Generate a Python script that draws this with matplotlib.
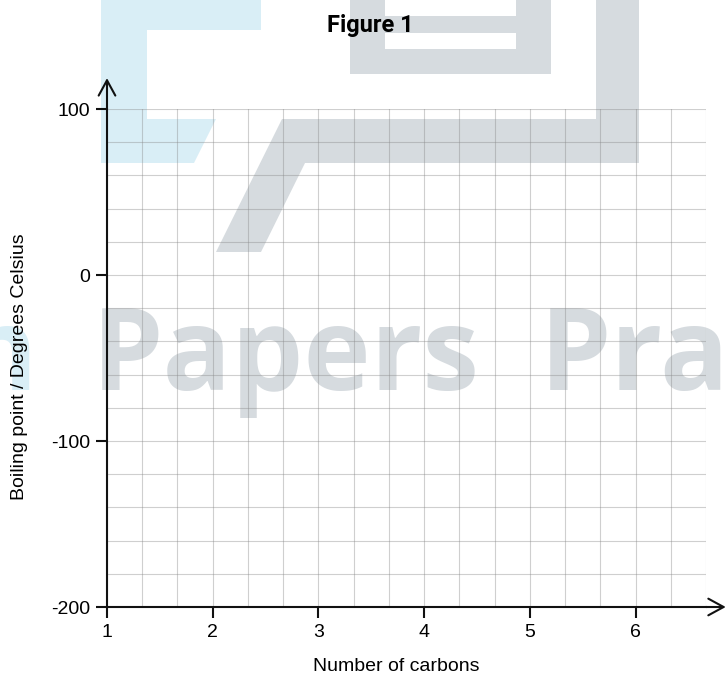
import matplotlib
matplotlib.use('Agg')
import matplotlib.pyplot as plt
from matplotlib.patches import Polygon
from matplotlib.ticker import MultipleLocator

plt.rcParams['font.family'] = ['Liberation Sans', 'DejaVu Sans']
plt.rcParams['axes.unicode_minus'] = False

# axis ranges and ticks
x_range = (1, 6 + 2 / 3)
y_range = (-200, 100)
x_ticks = [1, 2, 3, 4, 5, 6]
y_ticks = [-200, -100, 0, 100]
x_grid_step = 1 / 3
y_grid_step = 20

title = 'Figure 1'
x_label = 'Number of carbons'
y_label = 'Boiling point / Degrees Celsius'

W, H = 727, 675


def fig_xy(x, y):
    # pixel position (from top-left) -> figure fraction
    return (x / W, 1 - y / H)


fig = plt.figure(figsize=(W / 100, H / 100), dpi=100)

# watermark behind the chart
blue = '#d9eef6'
grey = '#d6dbdf'
blue_shape = [(101, 0), (261, 0), (261, 30), (147, 30), (147, 119),
              (216, 119), (194, 163), (101, 163)]
grey_block = [(350, 0), (551, 0), (551, 74), (350, 74)]
grey_leg = [(596, 0), (639, 0), (639, 163), (305, 163), (261, 252),
            (216, 252), (282, 119), (596, 119)]
for pts, col in [(blue_shape, blue), (grey_block, grey), (grey_leg, grey)]:
    fig.patches.append(Polygon([fig_xy(*p) for p in pts], closed=True,
                               transform=fig.transFigure, facecolor=col,
                               edgecolor='none', zorder=-2))
# white slots in the grey block
for y0, y1 in [(0, 16), (33, 49)]:
    pts = [(385, y0), (516, y0), (516, y1), (385, y1)]
    fig.patches.append(Polygon([fig_xy(*p) for p in pts], closed=True,
                               transform=fig.transFigure, facecolor='white',
                               edgecolor='none', zorder=-1))

wm = dict(ha='left', va='baseline', fontsize=82, fontweight='bold',
          family='Open Sans', zorder=-1)
fig.text(*fig_xy(-38, 390), 'n', color=blue, **wm)
fig.text(*fig_xy(92, 390), 'Papers', color=grey, **wm)
fig.text(*fig_xy(540, 390), 'Pra', color=grey, **wm)

# axes placed over the grid area
left, top = fig_xy(107, 109)
right, bottom = fig_xy(706, 607)
ax = fig.add_axes([left, bottom, right - left, top - bottom])
ax.set_facecolor('none')

ax.set_xlim(*x_range)
ax.set_ylim(*y_range)
ax.set_xticks(x_ticks)
ax.set_yticks(y_ticks)
ax.xaxis.set_minor_locator(MultipleLocator(x_grid_step))
ax.yaxis.set_minor_locator(MultipleLocator(y_grid_step))
ax.grid(True, which='both', color='#888888', alpha=0.4, linewidth=0.8)
ax.set_axisbelow(True)

for side in ['top', 'right']:
    ax.spines[side].set_visible(False)
for side in ['left', 'bottom']:
    ax.spines[side].set_linewidth(1.5)
    ax.spines[side].set_color('#111111')

ax.tick_params(which='major', direction='out', length=8, width=1.5,
               labelsize=14, pad=4, color='#111111')
ax.tick_params(which='minor', length=0)

# open arrow heads at the end of both axes
arrow = dict(arrowstyle='->,head_length=11,head_width=6', mutation_scale=1,
             lw=1.5, color='#111111', shrinkA=0, shrinkB=0)
ax.annotate('', xy=(0, 1.062), xytext=(0, 1), xycoords='axes fraction',
            arrowprops=arrow, annotation_clip=False)
ax.annotate('', xy=(1.033, 0), xytext=(1, 0), xycoords='axes fraction',
            arrowprops=arrow, annotation_clip=False)

fig.text(*fig_xy(370, 32), title, ha='center', va='baseline', fontsize=17,
         fontweight='bold', family='Roboto')
fig.text(*fig_xy(396, 671), x_label, ha='center', va='baseline', fontsize=14)
fig.text(*fig_xy(20, 367), y_label, ha='center', va='center', fontsize=14,
         rotation=90)

fig.savefig('out.png', dpi=100)
